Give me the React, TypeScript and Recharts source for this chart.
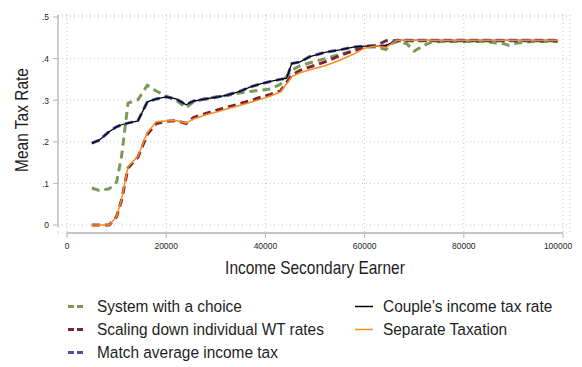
import { CartesianGrid, Legend, Line, LineChart, XAxis, YAxis } from 'recharts';

const incomes = [
  5000, 6500, 8500, 10000, 11000, 12300, 14300, 16200, 18000, 20000, 22000, 24000, 25500, 28000,
  30500, 32500, 35000, 37000, 39000, 41000, 43000, 44300, 45300, 47000, 49000, 52000, 55000, 58000,
  60000, 62500, 64300, 65500, 66500, 68500, 70000, 72000, 73500, 76000, 80000, 84000, 88000, 89000,
  90500, 94000, 99000,
];

const choiceRates = [
  0.089, 0.083, 0.087, 0.103, 0.165, 0.293, 0.301, 0.336, 0.322, 0.31, 0.3, 0.282, 0.296, 0.304,
  0.309, 0.312, 0.318, 0.321, 0.324, 0.327, 0.338, 0.358, 0.372, 0.383, 0.39, 0.4, 0.41, 0.419,
  0.428, 0.428, 0.422, 0.436, 0.441, 0.436, 0.418, 0.432, 0.44, 0.441, 0.441, 0.441, 0.436, 0.432,
  0.437, 0.441, 0.441,
];

const scalingRates = [
  0, 0, 0, 0.02, 0.06, 0.137, 0.163, 0.218, 0.244, 0.249, 0.251, 0.244, 0.258, 0.268,
  0.277, 0.284, 0.292, 0.299, 0.307, 0.314, 0.322, 0.343, 0.36, 0.372, 0.38, 0.392, 0.407, 0.42,
  0.428, 0.432, 0.443, 0.443, 0.443, 0.443, 0.443, 0.443, 0.443, 0.443, 0.443, 0.443, 0.443, 0.443,
  0.443, 0.443, 0.443,
];

const matchRates = [
  0.197, 0.204, 0.225, 0.236, 0.241, 0.245, 0.251, 0.296, 0.303, 0.308, 0.303, 0.289, 0.298, 0.303,
  0.308, 0.313, 0.322, 0.332, 0.339, 0.345, 0.35, 0.353, 0.388, 0.392, 0.405, 0.415, 0.421, 0.428,
  0.43, 0.43, 0.431, 0.438, 0.444, 0.444, 0.444, 0.444, 0.444, 0.444, 0.444, 0.444, 0.444, 0.444,
  0.444, 0.444, 0.444,
];

const coupleRates = [
  0.196, 0.204, 0.224, 0.236, 0.241, 0.245, 0.25, 0.296, 0.303, 0.308, 0.303, 0.289, 0.298, 0.303,
  0.308, 0.313, 0.322, 0.332, 0.339, 0.345, 0.35, 0.353, 0.388, 0.392, 0.405, 0.415, 0.421, 0.428,
  0.43, 0.43, 0.431, 0.438, 0.444, 0.444, 0.444, 0.444, 0.444, 0.444, 0.444, 0.444, 0.444, 0.444,
  0.444, 0.444, 0.444,
];

const separateRates = [
  0, 0, 0, 0.02, 0.062, 0.14, 0.165, 0.222, 0.248, 0.25, 0.251, 0.245, 0.255, 0.265,
  0.273, 0.28, 0.288, 0.295, 0.302, 0.31, 0.32, 0.34, 0.357, 0.366, 0.373, 0.383, 0.396, 0.412,
  0.425, 0.431, 0.427, 0.436, 0.444, 0.444, 0.444, 0.444, 0.444, 0.444, 0.444, 0.444, 0.444, 0.444,
  0.444, 0.444, 0.444,
];

const incomeTicks = [0, 20000, 40000, 60000, 80000, 100000];
const rateTicks = [0, 0.1, 0.2, 0.3, 0.4, 0.5];

const data = incomes.map((income, i) => ({
  income,
  choice: choiceRates[i],
  scaling: scalingRates[i],
  match: matchRates[i],
  couple: coupleRates[i],
  separate: separateRates[i],
}));

const FONT = '"Liberation Sans", Arial, sans-serif';
const AXIS_GREY = '#b4b4b4';
const TEXT = '#1e1e1e';
// the source font is a bit narrower than Arial, so text is squeezed along its run
const NARROW = 0.88;

// drawing order = legend order; col/row place the item in Stata's two-column legend
const series = [
  { key: 'choice', name: 'System with a choice', color: '#7b9a59', width: 3, dash: '8 5', col: 0, row: 0 },
  { key: 'scaling', name: 'Scaling down individual WT rates', color: '#7a2632', width: 3, dash: '8 5', col: 0, row: 1 },
  { key: 'match', name: 'Match average income tax', color: '#4a52a8', width: 3, dash: '8 5', col: 0, row: 2 },
  { key: 'couple', name: "Couple's income tax rate", color: '#000000', width: 1.3, dash: undefined, col: 1, row: 0 },
  { key: 'separate', name: 'Separate Taxation', color: '#ff8a1f', width: 1.5, dash: undefined, col: 1, row: 1 },
];

const formatRate = (v: number) => (v === 0 ? '0' : v.toFixed(1).replace(/^0/, ''));

const IncomeTick = (props: any) => (
  <g transform={`translate(${props.x} ${props.y}) scale(${NARROW} 1)`}>
    <text textAnchor="middle" dy="0.71em" fontSize={9.6} fontFamily={FONT} fill={TEXT}>
      {props.payload.value}
    </text>
  </g>
);

const RateTick = (props: any) => (
  <g transform={`translate(${props.x} ${props.y}) scale(${NARROW} 1)`}>
    <text textAnchor="end" dy="0.355em" fontSize={9.6} fontFamily={FONT} fill={TEXT}>
      {formatRate(props.payload.value)}
    </text>
  </g>
);

const renderIncomeLabel = (props: any) => {
  const vb = props.viewBox ?? { x: 58, y: 233, width: 512, height: 50 };
  const cx = vb.x + vb.width / 2 + 1;
  return (
    <g transform={`translate(${cx} ${vb.y + 40.5}) scale(${NARROW} 1)`}>
      <text textAnchor="middle" fontSize={17.6} fontFamily={FONT} fill={TEXT}>
        Income Secondary Earner
      </text>
    </g>
  );
};

const renderRateLabel = (props: any) => {
  const vb = props.viewBox ?? { x: 0, y: 15, width: 58, height: 218 };
  const cx = vb.x + 22;
  const cy = vb.y + vb.height / 2 - 4;
  return (
    <g transform={`translate(${cx} ${cy}) rotate(-90) scale(${NARROW} 1)`}>
      <text textAnchor="middle" dominantBaseline="central" fontSize={17.6} fontFamily={FONT} fill={TEXT}>
        Mean Tax Rate
      </text>
    </g>
  );
};

const renderLegend = () => (
  <svg width={582} height={75} style={{ display: 'block' }}>
    {series.map((s) => {
      const baseline = 22 + s.row * 23;
      const x0 = s.col === 0 ? 68 : 355;
      const x1 = s.col === 0 ? 83 : 373;
      const tx = s.col === 0 ? 97 : 383;
      return (
        <g key={s.key}>
          <line
            x1={x0}
            x2={x1}
            y1={baseline - 5.5}
            y2={baseline - 5.5}
            stroke={s.color}
            strokeWidth={s.dash ? 3 : 1.5}
            strokeDasharray={s.dash ? '6 3' : undefined}
          />
          <g transform={`translate(${tx} ${baseline}) scale(0.93 1)`}>
            <text fontSize={16.6} fontFamily={FONT} fill={TEXT}>
              {s.name}
            </text>
          </g>
        </g>
      );
    })}
  </svg>
);

export default function App() {
  return (
    <div style={{ position: 'absolute', left: 0, top: 0, width: 582, height: 367, background: '#fff' }}>
      <LineChart width={582} height={367} data={data} margin={{ top: 15, right: 12, bottom: 84, left: 0 }}>
        <CartesianGrid stroke="#c8c8c8" strokeDasharray="1 3" />
        <XAxis
          dataKey="income"
          type="number"
          domain={[0, 100000]}
          ticks={incomeTicks}
          padding={{ left: 9, right: 7 }}
          height={50}
          axisLine={{ stroke: AXIS_GREY, strokeWidth: 1.5, strokeDasharray: '0 9 496 20' }}
          tickLine={{ stroke: AXIS_GREY }}
          tickSize={5}
          tickMargin={4}
          tick={IncomeTick}
          label={{ content: renderIncomeLabel }}
        />
        <YAxis
          type="number"
          domain={[0, 0.5]}
          ticks={rateTicks}
          padding={{ top: 2, bottom: 8 }}
          width={58}
          axisLine={{ stroke: AXIS_GREY, strokeWidth: 1.2, strokeDasharray: '212 20' }}
          tickLine={{ stroke: AXIS_GREY }}
          tickSize={5}
          tickMargin={4}
          tick={RateTick}
          label={{ content: renderRateLabel }}
        />
        <Legend
          layout="vertical"
          align="center"
          verticalAlign="middle"
          content={renderLegend}
          wrapperStyle={{ top: 290, left: 0, width: 582, height: 75 }}
        />
        {series.map((s) => (
          <Line
            key={s.key}
            dataKey={s.key}
            name={s.name}
            type="linear"
            stroke={s.color}
            strokeWidth={s.width}
            strokeDasharray={s.dash}
            dot={false}
            activeDot={false}
            isAnimationActive={false}
          />
        ))}
      </LineChart>
    </div>
  );
}
